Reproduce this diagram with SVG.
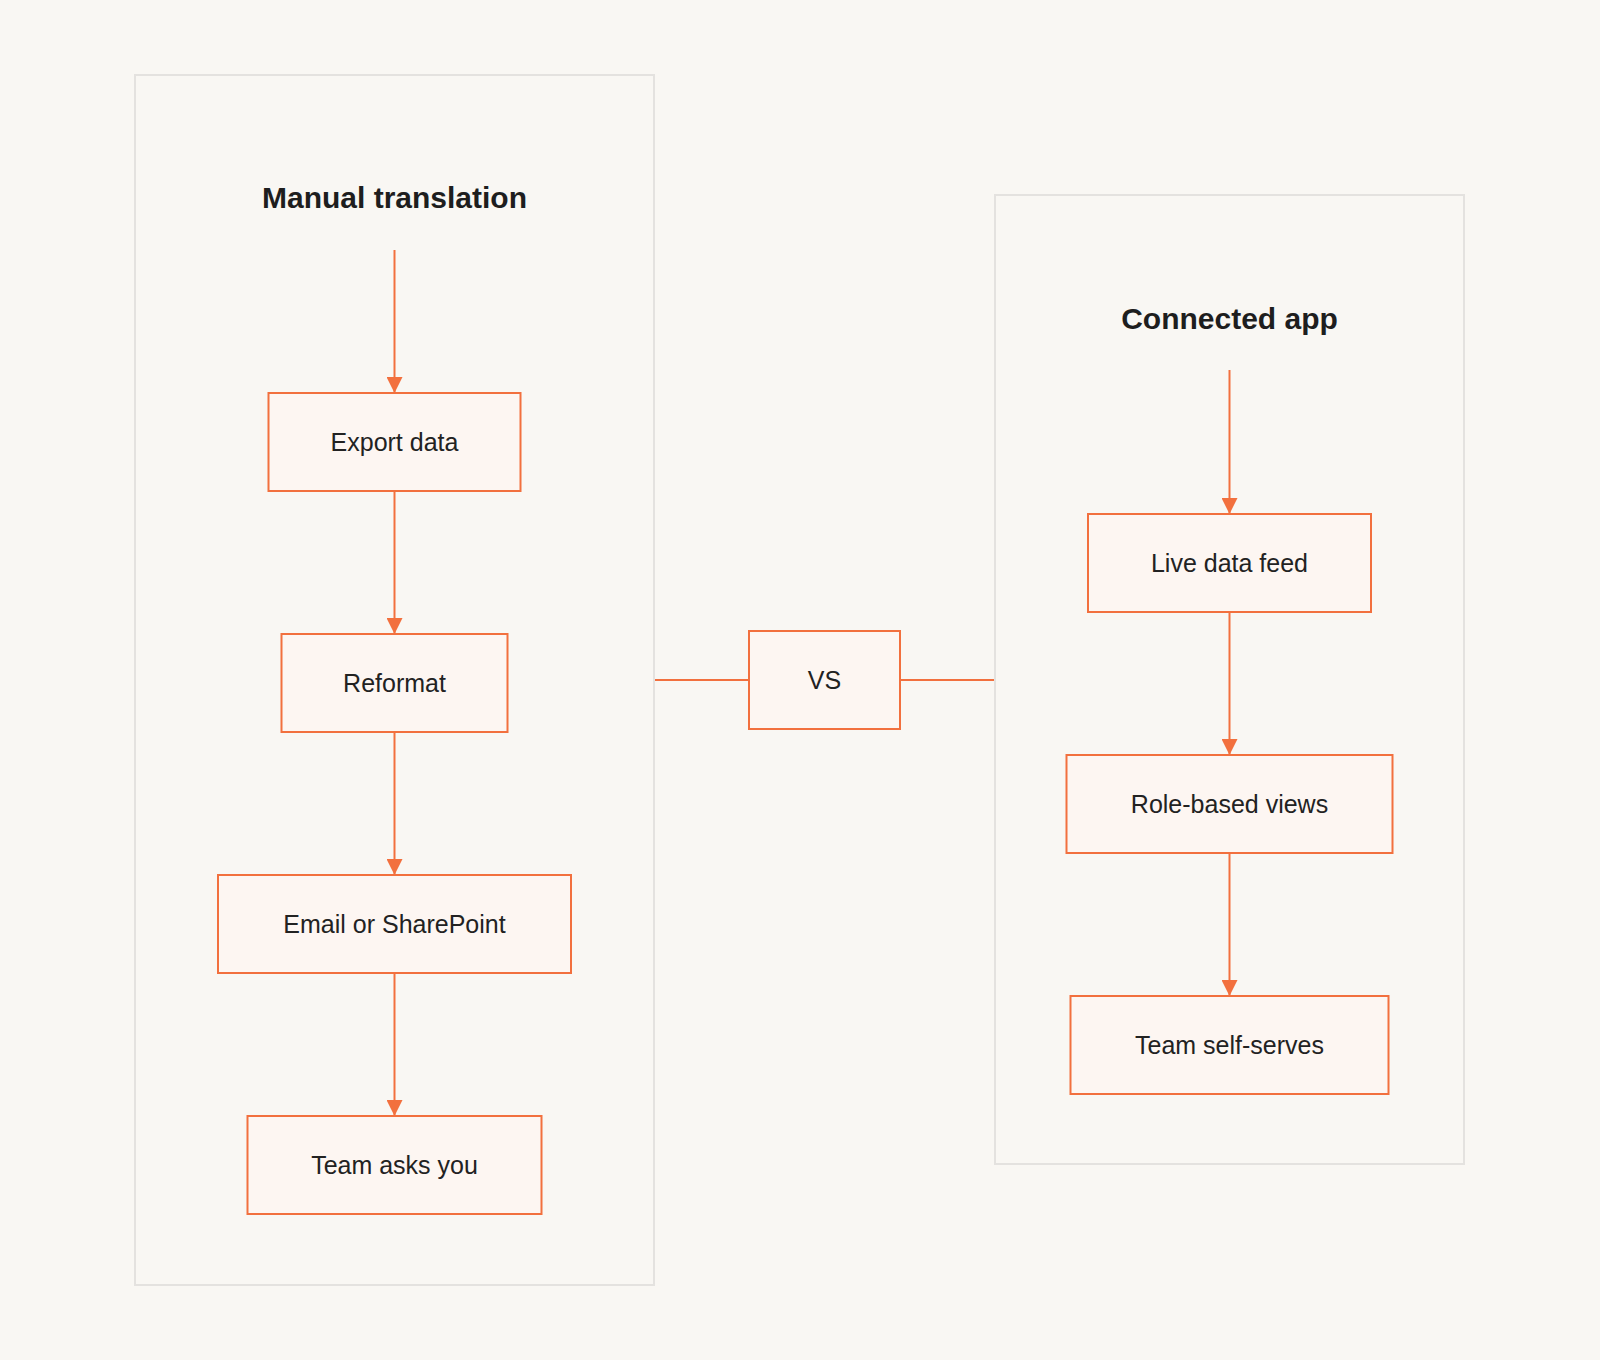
<svg xmlns="http://www.w3.org/2000/svg" width="1600" height="1360" viewBox="0 0 1600 1360">
<style>
.panel{fill:#f9f7f3;stroke:#e4e2df;stroke-width:2}
.box{fill:#fdf6f2;stroke:#f2703e;stroke-width:2}
.lbl{font-family:"Liberation Sans",Arial,sans-serif;font-size:25px;fill:#222;text-anchor:middle;dominant-baseline:central}
.ttl{font-family:"Liberation Sans",Arial,sans-serif;font-size:30px;font-weight:bold;fill:#1e1e1e;text-anchor:middle;dominant-baseline:central}
.ln{stroke:#f2703e;stroke-width:2;fill:none}
</style>
<defs><marker id="ah" viewBox="0 0 10 10" refX="10" refY="5" markerWidth="16" markerHeight="16" markerUnits="userSpaceOnUse" orient="auto"><path d="M0,0L10,5L0,10z" fill="#f2703e"/></marker></defs>
<rect width="1600" height="1360" fill="#f9f7f3"/>
<g id="manual"><rect class="panel" x="135" y="75" width="519" height="1210"/><text class="ttl" x="394.5" y="197">Manual translation</text></g>
<g id="connected"><rect class="panel" x="995" y="195" width="469" height="969"/><text class="ttl" x="1229.5" y="318">Connected app</text></g>
<g id="connectors">
<line class="ln" x1="394.5" y1="250" x2="394.5" y2="393" marker-end="url(#ah)"/>
<line class="ln" x1="394.5" y1="491" x2="394.5" y2="634" marker-end="url(#ah)"/>
<line class="ln" x1="394.5" y1="732" x2="394.5" y2="875" marker-end="url(#ah)"/>
<line class="ln" x1="394.5" y1="973" x2="394.5" y2="1116" marker-end="url(#ah)"/>
<line class="ln" x1="1229.5" y1="370" x2="1229.5" y2="514" marker-end="url(#ah)"/>
<line class="ln" x1="1229.5" y1="612" x2="1229.5" y2="755" marker-end="url(#ah)"/>
<line class="ln" x1="1229.5" y1="853" x2="1229.5" y2="996" marker-end="url(#ah)"/>
<line class="ln" x1="655" y1="680" x2="749" y2="680"/>
<line class="ln" x1="900" y1="680" x2="994" y2="680"/>
</g>
<g id="export"><rect class="box" x="268.5" y="393" width="252" height="98"/><text class="lbl" x="394.5" y="442">Export data</text></g>
<g id="reformat"><rect class="box" x="281.5" y="634" width="226" height="98"/><text class="lbl" x="394.5" y="683">Reformat</text></g>
<g id="email"><rect class="box" x="218" y="875" width="353" height="98"/><text class="lbl" x="394.5" y="924">Email or SharePoint</text></g>
<g id="asks"><rect class="box" x="247.5" y="1116" width="294" height="98"/><text class="lbl" x="394.5" y="1165">Team asks you</text></g>
<g id="vs"><rect class="box" x="749" y="631" width="151" height="98"/><text class="lbl" x="824.5" y="680">VS</text></g>
<g id="live"><rect class="box" x="1088" y="514" width="283" height="98"/><text class="lbl" x="1229.5" y="563">Live data feed</text></g>
<g id="role"><rect class="box" x="1066.5" y="755" width="326" height="98"/><text class="lbl" x="1229.5" y="804">Role-based views</text></g>
<g id="self"><rect class="box" x="1070.5" y="996" width="318" height="98"/><text class="lbl" x="1229.5" y="1045">Team self-serves</text></g>
</svg>
